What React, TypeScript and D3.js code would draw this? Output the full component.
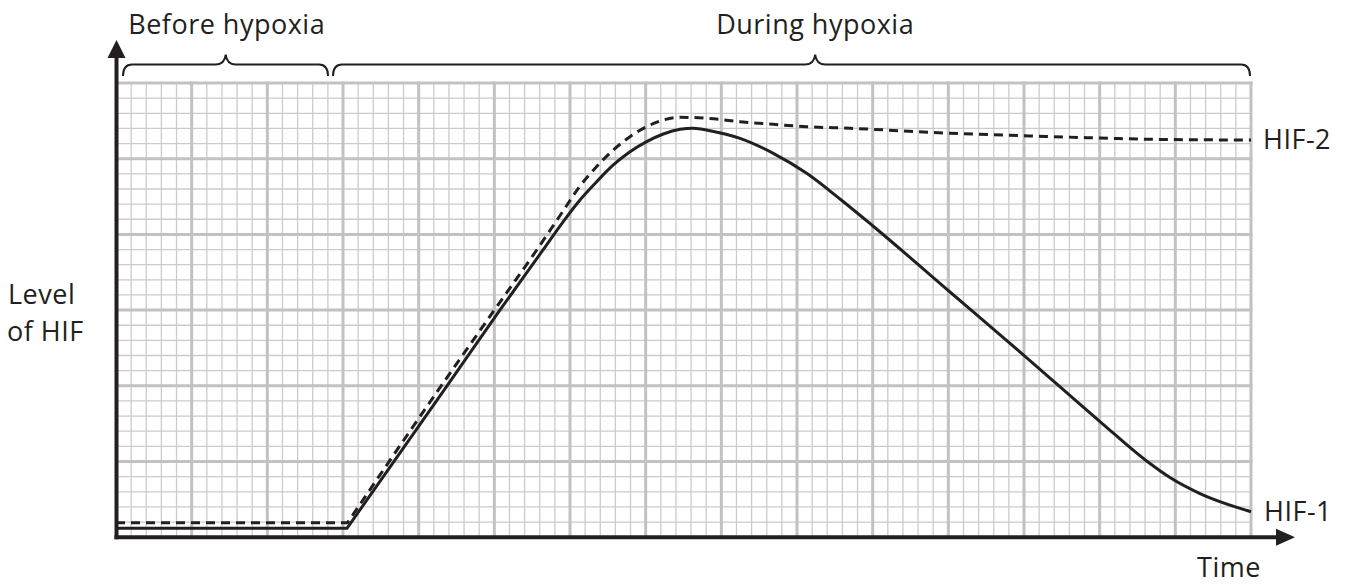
import React from "react";
import * as d3 from "d3";

// ---- data (time and level in grid major units) ----
const hif1Time = [0, 3.053, 4.368, 5.059, 5.643, 5.911, 6.132, 6.353, 6.572, 6.793, 7.013, 7.233, 7.454, 7.629, 7.85, 8.247, 8.687, 9.128, 9.568, 10.004, 11.022, 11.987, 13.004, 13.621, 13.929, 14.326, 15.0];
const hif1Level = [0.118, 0.118, 1.988, 2.979, 3.794, 4.17, 4.455, 4.696, 4.917, 5.092, 5.225, 5.326, 5.388, 5.402, 5.37, 5.269, 5.071, 4.807, 4.468, 4.111, 3.239, 2.413, 1.528, 1.007, 0.789, 0.577, 0.337];
const hif2Time = [0, 3.06, 4.29, 4.985, 5.56, 5.9, 6.125, 6.35, 6.572, 6.793, 7.013, 7.233, 7.454, 7.806, 8.247, 8.687, 9.128, 9.701, 11.022, 11.991, 13.004, 13.665, 15.0];
const hif2Level = [0.192, 0.192, 1.988, 2.979, 3.794, 4.296, 4.63, 4.894, 5.115, 5.291, 5.423, 5.511, 5.547, 5.534, 5.489, 5.454, 5.423, 5.402, 5.336, 5.304, 5.273, 5.256, 5.247];
const seriesNames = ["HIF-1", "HIF-2"];
const phaseLabels = ["Before hypoxia", "During hypoxia"];
const phaseStart = [0, 3];
const phaseEnd = [3, 15];
const phaseTip = [1.45, 9.24];
const xMax = 15;
const yMax = 6;
const minorPerMajor = 5;

const W = 1351;
const H = 585;
const FONT = "'Open Sans', 'Noto Sans', sans-serif";
const INK = "#231f20";
const FS = 27;
const LS = 0.5;

export default function App() {
  const x = d3.scaleLinear().domain([0, xMax]).range([116, 1251]);
  const y = d3.scaleLinear().domain([0, yMax]).range([537.2, 83]);

  const minorX = d3.range(0, xMax * minorPerMajor + 1).map((i) => i / minorPerMajor).filter((v) => Math.abs(v - Math.round(v)) > 1e-6);
  const minorY = d3.range(0, yMax * minorPerMajor + 1).map((i) => i / minorPerMajor).filter((v) => Math.abs(v - Math.round(v)) > 1e-6);
  const majorX = d3.range(1, xMax + 1);
  const majorY = d3.range(1, yMax + 1);

  const makePath = (ts: number[], ls: number[]) => {
    const pts: [number, number][] = ts.map((t, i) => [x(t), y(ls[i])]);
    const flat = d3.line().curve(d3.curveLinear)(pts.slice(0, 2)) || "";
    const rest = d3.line().curve(d3.curveMonotoneX)(pts.slice(1)) || "";
    return flat + rest.replace(/^M/, "L");
  };

  const brace = (x0: number, x1: number, xm: number, yLine: number, yEnd: number, yTip: number, r: number, rt: number) =>
    `M${x0},${yEnd} Q${x0},${yLine} ${x0 + r},${yLine} L${xm - rt},${yLine} Q${xm - 1},${yLine} ${xm},${yTip} Q${xm + 1},${yLine} ${xm + rt},${yLine} L${x1 - r},${yLine} Q${x1},${yLine} ${x1},${yEnd}`;

  const braceGapStart = [7, -10];
  const braceGapEnd = [-15, -1];

  const lastT1 = hif1Time[hif1Time.length - 1];
  const lastL1 = hif1Level[hif1Level.length - 1];
  const lastT2 = hif2Time[hif2Time.length - 1];
  const lastL2 = hif2Level[hif2Level.length - 1];

  const txt = { fontSize: FS, fill: INK, letterSpacing: LS } as any;

  return (
    <svg width={W} height={H} style={{ position: "absolute", left: 0, top: 0, display: "block", background: "#fff" }} fontFamily={FONT}>
      <rect width={W} height={H} fill="#fff" />
      {/* minor grid */}
      <g stroke="#cbcbcd" strokeWidth={1.3}>
        {minorX.map((v) => (
          <line key={"mx" + v} x1={x(v)} x2={x(v)} y1={y(0)} y2={y(yMax)} />
        ))}
        {minorY.map((v) => (
          <line key={"my" + v} x1={x(0)} x2={x(xMax)} y1={y(v)} y2={y(v)} />
        ))}
      </g>
      {/* major grid */}
      <g stroke="#c2c2c4" strokeWidth={3}>
        {majorX.map((v) => (
          <line key={"Mx" + v} x1={x(v)} x2={x(v)} y1={y(0)} y2={y(yMax) - 1.5} />
        ))}
        {majorY.map((v) => (
          <line key={"My" + v} x1={x(0)} x2={x(xMax) + 1.5} y1={y(v)} y2={y(v)} />
        ))}
      </g>

      {/* curves */}
      <path d={makePath(hif2Time, hif2Level)} fill="none" stroke={INK} strokeWidth={3} strokeDasharray="9 6" />
      <path d={makePath(hif1Time, hif1Level)} fill="none" stroke={INK} strokeWidth={3} />

      {/* axes */}
      <line x1={x(0) + 0.5} x2={x(0) + 0.5} y1={y(0) + 2} y2={57} stroke={INK} strokeWidth={4} />
      <polygon points={`${x(0) + 0.5},40 ${x(0) - 8.5},58 ${x(0) + 9.5},58`} fill={INK} />
      <line x1={x(0) - 1.5} x2={1278} y1={y(0)} y2={y(0)} stroke={INK} strokeWidth={4} />
      <polygon points={`1295,${y(0)} 1276,${y(0) - 8.5} 1276,${y(0) + 8.5}`} fill={INK} />

      {/* phase braces */}
      {phaseLabels.map((lab, i) => (
        <g key={lab}>
          <path
            d={brace(x(phaseStart[i]) + braceGapStart[i], x(phaseEnd[i]) + braceGapEnd[i], x(phaseTip[i]), 64.5, 76, 54.5, 9, 10)}
            fill="none"
            stroke={INK}
            strokeWidth={2}
          />
          <text x={x(phaseTip[i]) + (i === 0 ? 1 : 0)} y={33.5} textAnchor="middle" {...txt}>
            {lab}
          </text>
        </g>
      ))}

      {/* labels */}
      <text x={8} y={304} {...txt}>Level</text>
      <text x={7} y={341} {...txt}>of HIF</text>
      <text x={1229} y={577} textAnchor="middle" {...txt}>Time</text>
      <text x={x(lastT2) + 12} y={y(lastL2) + 9} {...txt}>{seriesNames[1]}</text>
      <text x={x(lastT1) + 13} y={y(lastL1) + 9} {...txt}>{seriesNames[0]}</text>
    </svg>
  );
}
